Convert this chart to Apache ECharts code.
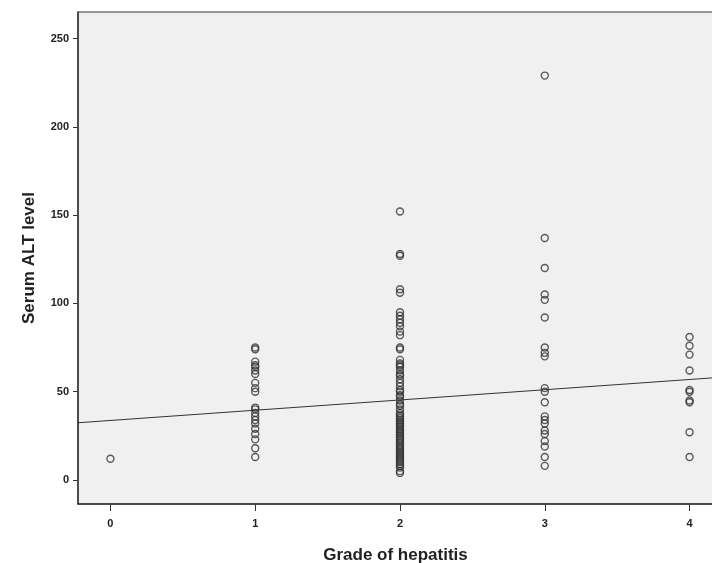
<!DOCTYPE html>
<html>
<head>
<meta charset="utf-8">
<style>
html,body{margin:0;padding:0;background:#fff;}
#chart{width:712px;height:563px;}
</style>
<script src="https://cdn.jsdelivr.net/npm/echarts@6/dist/echarts.min.js"></script>
</head>
<body>
<div id="chart"></div>
<script>
const xTicks = [0, 1, 2, 3, 4];
const yTicks = [0, 50, 100, 150, 200, 250];
const grade0 = [12];
const grade1 = [75, 74, 67, 65, 64, 62, 60, 55, 52, 50, 41, 40, 38, 36, 34, 32, 29, 26, 23, 18, 13];
const grade2 = [152, 128, 127, 108, 106, 95, 93, 91, 89, 87, 84, 82, 75, 74, 68, 66, 65, 64, 62, 60, 59, 57, 55, 53, 51, 50, 48, 47, 45, 43, 42, 40, 38, 37, 36, 35, 34, 33, 32, 31, 30, 29, 28, 27, 26, 25, 24, 23, 22, 21, 20, 19, 18, 17, 16, 15, 14, 13, 12, 11, 10, 9, 8, 7, 5, 4];
const grade3 = [229, 137, 120, 105, 102, 92, 75, 72, 70, 52, 50, 44, 36, 34, 32, 28, 26, 22, 19, 13, 8];
const grade4 = [81, 76, 71, 62, 51, 50, 45, 44, 27, 13];
const fitIntercept = 33.7;
const fitSlope = 5.8;
const xMin = -0.224, xMax = 4.162;
const yMin = -13.6, yMax = 265;

const groups = [grade0, grade1, grade2, grade3, grade4];
const points = [];
groups.forEach((arr, g) => arr.forEach(v => points.push([g, v])));
const fitLine = [[xMin, fitIntercept + fitSlope * xMin], [xMax, fitIntercept + fitSlope * xMax]];

const chart = echarts.init(document.getElementById('chart'));
const labelFont = {fontFamily: 'Liberation Sans, Arial, sans-serif', fontWeight: 'bold', fontSize: 11, color: '#222'};
chart.setOption({
  backgroundColor: '#fff',
  animation: false,
  grid: {left: 78, right: -1, top: 12, bottom: 59, outerBoundsMode: 'none', containLabel: false, show: true, backgroundColor: '#f0f0f0', borderColor: '#333', borderWidth: 1},
  xAxis: {
    type: 'value', min: xMin, max: xMax,
    name: 'Grade of hepatitis', nameLocation: 'middle', nameGap: 43,
    nameTextStyle: {fontFamily: 'Liberation Sans, Arial, sans-serif', fontWeight: 'bold', fontSize: 17, color: '#222'},
    axisLine: {show: true, onZero: false, lineStyle: {color: '#333', width: 1.5}},
    axisTick: {show: true, length: 7, customValues: xTicks, lineStyle: {color: '#333'}},
    axisLabel: Object.assign({customValues: xTicks, margin: 14}, labelFont),
    splitLine: {show: false}
  },
  yAxis: {
    type: 'value', min: yMin, max: yMax,
    name: 'Serum ALT level', nameLocation: 'middle', nameGap: 40,
    nameTextStyle: {fontFamily: 'Liberation Sans, Arial, sans-serif', fontWeight: 'bold', fontSize: 17, color: '#222'},
    axisLine: {show: true, onZero: false, lineStyle: {color: '#333', width: 1.5}},
    axisTick: {show: true, length: 5, customValues: yTicks, lineStyle: {color: '#333'}},
    axisLabel: Object.assign({customValues: yTicks, margin: 9}, labelFont),
    splitLine: {show: false}
  },
  series: [
    {
      type: 'line', data: fitLine, symbol: 'none',
      lineStyle: {color: '#333', width: 1}, z: 3
    },
    {
      type: 'scatter', data: points, symbol: 'circle', symbolSize: 7,
      itemStyle: {color: 'rgba(0,0,0,0)', borderColor: '#333', borderWidth: 1.4}, z: 4
    }
  ]
});
</script>
</body>
</html>
